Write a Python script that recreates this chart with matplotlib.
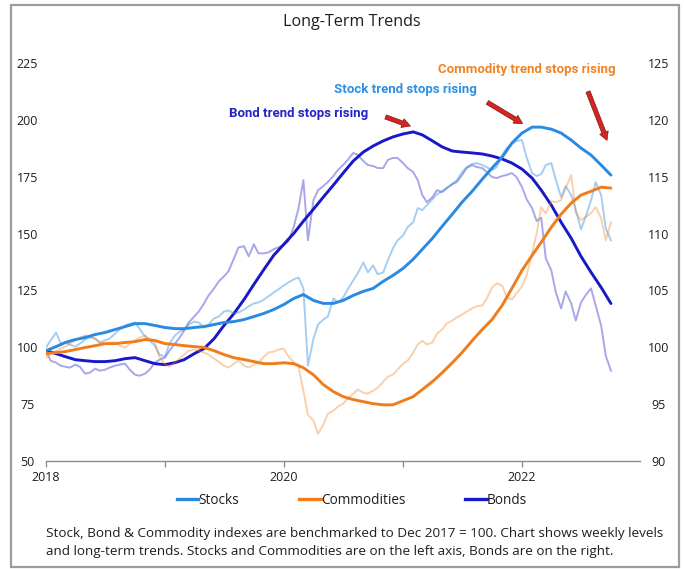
import matplotlib
matplotlib.use('Agg')
import matplotlib.pyplot as plt
import pandas as pd
from matplotlib.lines import Line2D
from matplotlib.patches import FancyArrowPatch, Rectangle

plt.rcParams['font.family'] = ['Open Sans', 'DejaVu Sans']

# ---------------- data ----------------
trend_start = '2018-01-01'
trend_periods = 58          # monthly, Jan 2018 .. Oct 2022
weekly_periods = 115        # semi-monthly readings of weekly levels

stocks_trend = [98.5, 100.3, 102.1, 103.4, 104.3, 105.6, 106.5, 107.8, 109.1, 110.4,
                110.4, 109.6, 108.7, 108.2, 108.2, 108.7, 109.1, 110.0, 110.9, 111.3,
                112.2, 113.5, 114.9, 116.6, 118.8, 121.5, 123.2, 120.6, 119.3, 119.3,
                120.6, 122.8, 124.6, 125.9, 129.0, 131.6, 134.7, 138.7, 143.1, 147.9,
                153.2, 158.5, 163.8, 168.6, 173.9, 178.8, 183.6, 189.8, 194.2, 196.8,
                196.8, 195.9, 194.2, 191.1, 187.6, 184.5, 180.1, 175.7]

commodities_trend = [97.2, 97.7, 98.1, 99.0, 99.9, 100.7, 101.6, 101.6, 102.1, 102.5,
                     103.4, 103.0, 101.6, 101.2, 100.7, 100.3, 99.9, 98.5, 96.8, 95.4,
                     94.6, 93.7, 92.8, 92.8, 93.2, 92.8, 91.0, 87.9, 83.6, 80.5,
                     78.3, 77.0, 76.1, 75.2, 74.7, 74.7, 76.5, 78.3, 81.4, 84.9,
                     88.8, 93.2, 97.7, 102.9, 107.8, 112.2, 118.4, 125.9, 133.8, 140.4,
                     146.2, 152.8, 158.5, 163.4, 166.9, 168.6, 170.4, 170.0]

bonds_trend = [99.71, 99.44, 99.18, 98.91, 98.82, 98.74, 98.74, 98.82, 99.00, 99.09,
               98.82, 98.56, 98.47, 98.65, 98.91, 99.44, 99.88, 100.76, 101.91, 102.97,
               104.21, 105.53, 106.85, 108.09, 109.06, 110.03, 111.09, 112.15, 113.20, 114.26,
               115.32, 116.38, 117.17, 117.70, 118.15, 118.50, 118.76, 118.94, 118.68, 118.15,
               117.62, 117.26, 117.17, 117.09, 117.00, 116.82, 116.56, 116.20, 115.67, 114.88,
               113.82, 112.50, 111.00, 109.59, 108.00, 106.59, 105.26, 103.85]

stocks_weekly = [99.9, 103.0, 106.5, 101.6, 102.1, 101.2, 100.3, 101.6, 103.4, 104.3,
                 103.8, 102.1, 103.0, 103.8, 106.0, 107.8, 109.6, 110.4, 110.9, 108.2,
                 104.7, 103.0, 100.7, 96.8, 95.9, 101.6, 105.2, 106.9, 107.8, 110.0,
                 111.3, 110.9, 108.7, 110.0, 112.7, 113.5, 115.7, 116.2, 114.9, 115.3,
                 116.6, 118.0, 119.3, 119.7, 121.0, 122.4, 124.1, 125.4, 127.2, 128.5,
                 129.9, 130.7, 125.9, 91.9, 103.8, 110.0, 112.2, 113.5, 121.5, 119.7,
                 121.9, 125.4, 129.4, 132.5, 137.3, 132.9, 136.0, 132.1, 132.9, 138.2,
                 143.5, 147.0, 149.2, 152.8, 155.0, 161.2, 160.3, 162.5, 165.1, 167.3,
                 168.6, 170.0, 171.7, 173.5, 177.0, 179.2, 180.6, 181.0, 180.1, 179.2,
                 177.9, 179.2, 184.5, 187.6, 189.4, 190.7, 191.1, 183.6, 176.6, 175.3,
                 176.1, 180.1, 181.0, 173.5, 166.0, 170.9, 166.9, 160.3, 151.9, 157.2,
                 164.7, 172.6, 166.9, 152.3, 147.0]

commodities_weekly = [95.5, 97.2, 98.5, 99.4, 100.3, 101.6, 103.0, 104.3, 105.2, 104.7,
                      103.8, 102.1, 101.6, 102.1, 102.1, 100.7, 99.9, 101.6, 103.0, 104.3,
                      105.2, 103.8, 102.1, 95.9, 92.4, 91.5, 93.3, 95.0, 96.8, 98.5,
                      99.0, 98.5, 97.7, 96.8, 95.0, 93.7, 91.9, 91.1, 92.8, 94.1,
                      91.9, 91.1, 92.4, 93.3, 95.9, 97.7, 98.1, 99.0, 99.4, 95.9,
                      93.3, 91.5, 80.9, 70.3, 67.7, 62.0, 65.9, 70.8, 72.1, 73.9,
                      75.2, 77.4, 79.6, 81.4, 80.0, 79.6, 80.9, 82.2, 84.9, 87.1,
                      88.0, 90.2, 92.8, 94.1, 97.7, 101.2, 102.9, 101.2, 102.1, 106.0,
                      107.8, 110.5, 111.8, 113.1, 114.4, 115.7, 117.1, 118.0, 118.4, 121.5,
                      126.3, 128.1, 127.2, 121.9, 121.0, 123.7, 126.8, 131.6, 141.3, 150.1,
                      161.6, 158.9, 164.2, 163.8, 164.7, 170.0, 175.7, 159.4, 155.9, 157.3,
                      159.0, 161.6, 156.8, 147.0, 154.9]

bonds_weekly = [99.71, 98.82, 98.65, 98.38, 98.29, 98.21, 98.47, 98.29, 97.68, 97.76,
                98.12, 97.94, 98.03, 98.21, 98.38, 98.47, 98.56, 98.03, 97.59, 97.50,
                97.68, 98.03, 98.65, 98.91, 99.09, 99.71, 100.32, 100.85, 101.47, 102.18,
                102.71, 103.15, 103.85, 104.56, 105.18, 105.79, 106.23, 106.68, 107.82, 108.79,
                108.88, 108.00, 109.06, 108.26, 108.26, 108.35, 108.62, 108.79, 108.97, 109.32,
                110.65, 112.23, 114.70, 109.41, 112.94, 113.82, 114.17, 114.53, 115.06, 115.59,
                116.03, 116.47, 117.09, 116.91, 116.38, 116.03, 115.94, 115.76, 115.76, 116.47,
                116.65, 116.65, 116.20, 115.76, 115.41, 114.70, 113.38, 112.76, 113.20, 113.82,
                113.65, 114.00, 114.35, 114.53, 115.15, 115.76, 116.03, 115.85, 115.76, 115.41,
                114.97, 114.88, 115.06, 115.15, 115.32, 114.97, 114.09, 113.03, 112.23, 111.10,
                111.40, 107.82, 106.76, 104.82, 103.41, 104.91, 103.85, 102.35, 103.94, 104.56,
                105.18, 103.68, 101.91, 99.26, 97.94]

left_ticks = [50, 75, 100, 125, 150, 175, 200, 225]
right_ticks = [90, 95, 100, 105, 110, 115, 120, 125]
year_ticks = ['2018', '2019', '2020', '2021', '2022']
year_labels = ['2018', '', '2020', '', '2022']

series_names = ['Stocks', 'Commodities', 'Bonds']
annotations = ['Stock trend stops rising', 'Commodity trend stops rising', 'Bond trend stops rising']
title = 'Long-Term Trends'
caption = ['Stock, Bond & Commodity indexes are benchmarked to Dec 2017 = 100. Chart shows weekly levels',
           'and long-term trends. Stocks and Commodities are on the left axis, Bonds are on the right.']

# ---------------- styling ----------------
C_STOCK = '#2a8ae2'
C_COMM = '#f07d1a'
C_BOND = '#1818c8'
TXT = '#1e1e1e'

trend_dates = pd.date_range(trend_start, periods=trend_periods, freq='MS')
weekly_dates = pd.date_range(trend_start, periods=weekly_periods, freq='SMS')

W, H = 684, 569
fig = plt.figure(figsize=(W / 100, H / 100), dpi=100)
fig.patch.set_facecolor('white')

ax_l, ax_r, ax_t, ax_b = 46, 640, 63, 461
ax = fig.add_axes([ax_l / W, 1 - ax_b / H, (ax_r - ax_l) / W, (ax_b - ax_t) / H])
ax2 = ax.twinx()
# bonds drawn underneath stocks/commodities
ax.set_zorder(2)
ax2.set_zorder(1)
ax.patch.set_visible(False)

wk_lw, tr_lw = 1.4, 2.1
ax2.plot(weekly_dates, bonds_weekly, color=C_BOND, alpha=0.38, lw=wk_lw, solid_joinstyle='round')
ax2.plot(trend_dates, bonds_trend, color=C_BOND, lw=tr_lw, solid_capstyle='round')

ax.plot(weekly_dates, stocks_weekly, color=C_STOCK, alpha=0.42, lw=wk_lw, solid_joinstyle='round')
ax.plot(weekly_dates, commodities_weekly, color=C_COMM, alpha=0.36, lw=wk_lw, solid_joinstyle='round')
ax.plot(trend_dates, commodities_trend, color=C_COMM, lw=tr_lw, solid_capstyle='round')
ax.plot(trend_dates, stocks_trend, color=C_STOCK, lw=tr_lw, solid_capstyle='round')

x0 = pd.Timestamp('2018-01-01')
x1 = x0 + pd.Timedelta(days=365.25 * (ax_r - ax_l) / 119.0)
ax.set_xlim(x0, x1)
ax.set_ylim(50, 225)
ax2.set_ylim(90, 125)

ax.set_xticks([pd.Timestamp(y + '-01-01') for y in year_ticks])
ax.set_xticklabels(year_labels)
ax.set_yticks(left_ticks)
ax.set_yticklabels([str(v) for v in left_ticks])
ax2.set_yticks(right_ticks)
ax2.set_yticklabels([str(v) for v in right_ticks])

for a in (ax, ax2):
    for s in ('top', 'left', 'right'):
        a.spines[s].set_visible(False)
ax2.spines['bottom'].set_visible(False)
ax.spines['bottom'].set_color('#8a8a8a')
ax.spines['bottom'].set_linewidth(1.0)

ax.tick_params(axis='x', direction='out', length=4, width=0.9, color='#8a8a8a',
               pad=3, labelsize=9, labelcolor=TXT)
ax.tick_params(axis='y', length=0, pad=13.5, labelsize=9, labelcolor=TXT)
ax2.tick_params(axis='y', length=0, pad=13.5, labelsize=9, labelcolor=TXT)
for lab in ax.get_yticklabels():
    lab.set_horizontalalignment('center')
for lab in ax2.get_yticklabels():
    lab.set_horizontalalignment('center')
ax.grid(False)
ax2.grid(False)

# ---------------- texts ----------------
def fx(px):
    return px / W

def fy(py):
    return 1 - py / H

fig.text(fx(352), fy(22), title, ha='center', va='center', fontsize=11.6, color=TXT)

ann_font = ['Liberation Sans Narrow', 'Roboto', 'DejaVu Sans']
fig.text(fx(405), fy(90), annotations[0], ha='center', va='center', fontsize=9.5,
         fontweight='bold', color='#2b8fe4', family=ann_font)
fig.text(fx(527), fy(70), annotations[1], ha='center', va='center', fontsize=9.5,
         fontweight='bold', color='#f08424', family=ann_font)
fig.text(fx(299), fy(113), annotations[2], ha='center', va='center', fontsize=9.5,
         fontweight='bold', color='#2323c8', family=ann_font)

arrow_specs = [((383, 116), (413, 127)), ((485, 101), (525, 125)), ((587, 89), (608, 143))]
for (a, b) in arrow_specs:
    arr = FancyArrowPatch((fx(a[0]), fy(a[1])), (fx(b[0]), fy(b[1])),
                          transform=fig.transFigure,
                          arrowstyle='simple,head_length=0.55,head_width=0.6,tail_width=0.28',
                          mutation_scale=11, facecolor='#d42424', edgecolor='#7a1a10',
                          linewidth=0.5, zorder=5)
    fig.patches.append(arr)

handles = [Line2D([], [], color=c, lw=2.4) for c in (C_STOCK, C_COMM, C_BOND)]
fig.legend(handles, series_names, loc='center', bbox_to_anchor=(fx(352), fy(500)), ncol=3,
           frameon=False, fontsize=9.8, handlelength=1.6, handletextpad=0.0,
           columnspacing=4.4, labelcolor=TXT)

fig.text(fx(46), fy(533), caption[0], ha='left', va='center', fontsize=9.7, color=TXT)
fig.text(fx(46), fy(552), caption[1], ha='left', va='center', fontsize=9.7, color=TXT)

fig.patches.append(Rectangle((fx(11), fy(567)), (679 - 11) / W, (567 - 5) / H,
                             transform=fig.transFigure, fill=False,
                             edgecolor='#9c9c9c', linewidth=1.6, zorder=0))

fig.savefig('out.png', dpi=100, facecolor='white')
